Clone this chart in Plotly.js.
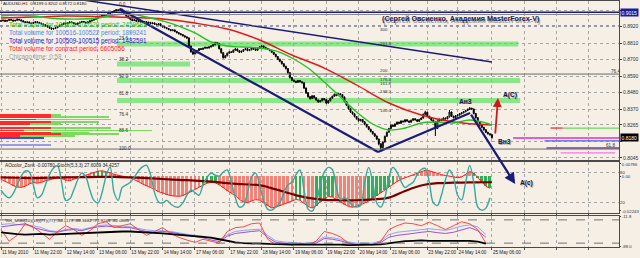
<!DOCTYPE html>
<html>
<head>
<meta charset="utf-8">
<script src="https://cdn.plot.ly/plotly-3.0.1.min.js"></script>
<style>
html,body{margin:0;padding:0;background:#f6efe6;overflow:hidden;}
#chart{width:640px;height:258px;}
</style>
</head>
<body>
<div id="chart"></div>
<script>
// ================= DATA =================
// prices stored as pips above 0.8000 (e.g. 958 -> 0.8958)
const symbolHeader = 'AUDUSD,H1  0.8199 0.8202 0.8172 0.8180';
const firstOpen = 955;
const closePips = [
958,962,955,960,966,963,957,961,968,964,
958,952,947,950,944,940,946,951,948,942,
937,931,925,918,910,903,907,912,920,928,
934,941,938,945,950,946,939,935,942,948,
953,949,944,950,957,962,968,975,981,988,
993,1000,996,1005,1012,1018,1024,1031,1027,1035,
1021,1004,990,978,969,960,964,955,958,951,
947,953,942,948,939,944,936,931,938,925,
918,912,906,900,893,897,887,879,872,866,
858,851,844,790,752,738,745,760,772,768,
775,781,777,784,790,798,812,806,772,745,
712,725,742,751,748,762,770,758,749,755,
766,772,760,765,778,770,762,775,784,790,
781,774,768,760,748,735,720,702,688,672,
655,640,612,580,562,555,548,560,552,545,
510,478,452,440,458,445,430,418,425,440,
432,410,425,442,455,468,460,472,466,450,
420,395,372,350,338,320,305,292,300,285,
268,252,235,220,205,190,170,138,112,150,
188,215,240,262,255,270,282,275,290,285,
298,290,282,295,305,298,288,300,310,335,
348,322,310,296,285,240,290,302,295,310,
305,318,350,322,312,325,330,338,345,352,
360,368,375,370,340,312,285,262,248,232,
215,205,199,180];
const highPips = [
963,966,965,964,970,971,966,965,973,971,
967,961,955,954,953,947,950,955,954,950,
945,940,934,928,921,913,911,916,924,932,
938,945,946,949,954,953,949,942,946,952,
957,956,952,954,961,966,972,979,985,992,
998,1004,1003,1009,1016,1022,1028,1036,1034,1043,
1038,1024,1007,993,982,972,968,967,962,961,
954,957,955,952,950,948,946,939,942,940,
928,921,915,909,903,901,900,890,882,875,
869,861,854,847,793,756,750,764,776,777,
779,785,784,788,794,802,818,815,809,775,
748,729,746,755,755,766,775,773,761,759,
770,776,775,769,782,781,773,779,788,795,
793,784,777,771,763,751,738,723,705,691,
675,658,643,615,584,566,558,564,563,555,
548,513,481,456,462,461,448,433,429,444,
443,435,429,446,459,473,471,476,475,469,
453,423,398,375,353,341,323,308,304,303,
288,271,255,238,223,208,193,173,141,154,
192,219,244,266,266,274,286,285,294,293,
302,301,293,299,309,308,301,304,314,340,
358,351,325,313,299,288,294,306,305,314,
313,322,363,353,325,329,334,342,349,356,
364,372,382,378,373,343,315,288,265,251,
235,218,208,202];
const lowPips = [
951,954,951,952,957,959,953,954,958,960,
954,948,943,944,940,935,937,943,944,938,
933,927,920,914,905,897,899,903,909,917,
924,930,934,935,941,942,935,930,932,939,
945,945,940,941,947,953,959,965,971,978,
984,989,991,993,1001,1008,1014,1020,1022,1024,
1016,998,985,973,964,955,956,951,951,947,
943,944,938,939,935,936,932,927,928,921,
914,908,902,895,888,889,882,874,867,861,
853,846,838,782,745,730,733,741,756,763,
764,771,772,773,780,786,794,801,767,739,
706,708,721,738,743,744,758,753,744,745,
751,762,755,756,761,765,757,758,771,780,
776,769,763,755,743,730,714,696,682,666,
649,633,605,573,555,549,542,544,547,539,
503,470,445,432,436,440,424,411,414,421,
427,404,406,421,438,451,455,456,461,445,
414,389,366,344,332,314,299,286,288,279,
262,246,229,214,199,184,163,128,83,105,
146,184,211,236,250,251,266,270,271,280,
281,285,277,278,291,293,283,284,296,306,
331,317,305,291,280,190,236,286,290,291,
300,301,314,317,307,308,321,326,334,341,
348,356,364,365,334,306,279,256,242,226,
209,199,192,172];

const maRedBars = [0,16,32,48,64,80,96,112,128,144,160,176,192,208,224,243];
const maRedPips = [977,983,990,987,980,970,943,903,830,730,643,530,410,330,283,263];
const maGreenBars = [0,8,16,24,32,40,48,56,64,72,80,88,96,104,112,120,128,136,144,152,160,168,176,184,192,200,208,216,224,232,240,243];
const maGreenPips = [990,997,990,977,970,970,977,997,1003,983,957,923,877,817,790,783,777,757,710,643,550,450,350,270,230,243,277,283,277,297,277,263];

// drawn trend lines (bar, price)
const longLineBars = [37.6, 243];
const longLinePrices = [0.9103, 0.8683];
const channelBars = [58.9, 186.6];
const channelPrices = [0.9037, 0.8083];
const riseBars = [186.6, 232.2];
const risePrices = [0.8083, 0.8343];
const navyArrowFrom = [232.2, 0.8343];
const navyArrowTo = [254.5, 0.7870];
const redArrowFrom = [244.6, 0.8197];
const redArrowTo = [246.0, 0.8443];

// horizontal zones and levels
const bandPrices = [0.8803, 0.8670, 0.8560, 0.8427];
const bandFromBar = [57.4, 57.4, 57.4, 57.4];
const bandToBar = [256, 93.6, 257, 257];
const fullLevelPrices = [0.9015, 0.9000, 0.8603, 0.8103];
const dottedLevelPrice = 0.8925;
const rightSegPrices = [0.8243, 0.8243, 0.8177, 0.8157, 0.8110, 0.8077];
const rightSegFrom = [278, 272, 253.5, 269, 270, 277];
const rightSegTo = [307, 278, 307, 307, 307, 304];

// left volume profile lines
const volPrices = [0.8330,0.8317,0.8300,0.8283,0.8270,0.8243,0.8227,0.8213,0.8203,0.8190];
const volGreenLen = [30,54,55,49,30,55,75,44,59,37];
const volRedLen = [25,25,18,25,15,25,12,25,30,10];
const volBluePrices = [0.8177];
const volBlueLen = [22];
const volLavPrices = [0.8130];
const volLavLen = [25];

// fibo labels
const fibLeftText = ['0.0','23.6','38.2','50.0','61.8','76.4','88.6','100.0'];
const fibLeftPrices = [0.9043,0.8817,0.8677,0.8563,0.8450,0.8310,0.8203,0.8083];
const fibRightText = ['300','261.8','200','176.4','161.8','138.2','100.0'];
const fibRightPrices = [0.8897,0.8810,0.8630,0.8570,0.8537,0.8490,0.8363];

// axis ticks
const xTickBars = [0,16,32,48,64,80,96,113,129,145,161,177,193,211,226,243,259,275,291];
const xTickLabels = ['11 May 2010','11 May 22:00','12 May 14:00','13 May 06:00','13 May 22:00','14 May 14:00','17 May 06:00','17 May 22:00','18 May 14:00','19 May 06:00','19 May 22:00','20 May 14:00','21 May 06:00','23 May 22:00','24 May 14:00','25 May 06:00','','',''];
const priceTicks = [0.8045,0.8155,0.8265,0.8370,0.8480,0.8590,0.8700,0.8810,0.8920,0.9030];
const priceTickLabels = ['0.8045','','0.8265','0.8370','0.8480','0.8590','0.8700','0.8810','0.8920',''];

// oscillator window (every 2nd bar)
const stochMain = [
45,35,30,38,55,72,82,80,55,30,
35,55,75,88,92,60,25,28,45,65,
78,70,45,25,20,40,72,90,40,25,
50,55,60,70,82,90,93,75,40,22,
20,25,18,13,12,20,35,45,40,35,
55,70,78,74,72,80,84,60,30,12,
15,40,70,78,55,25,8,6,12,20,
40,55,60,75,84,45,8,4,20,55,
80,89,85,50,26,30,25,15,12,15,
60,89,60,20,12,30,70,89,80,62,
50,55,60,75,85,87,60,20,15,35,
65,84,70,35,26,60,93,60,12,6,
10,30];
// AO values in units of 0.0001
const aoValues = [
-20,-30,-45,-60,-70,-72,-65,-50,-40,-45,
-40,-30,-22,-15,-10,-15,-25,-28,-20,-10,
0,8,15,25,32,35,30,22,12,5,
0,-5,-10,-20,-35,-50,-60,-70,-85,-100,
-110,-118,-125,-128,-130,-125,-115,-100,-85,-70,
-55,-45,-40,-42,-55,-75,-95,-110,-125,-150,
-165,-170,-160,-150,-155,-170,-190,-205,-200,-190,
-180,-170,-160,-150,-155,-175,-195,-205,-190,-165,
-145,-130,-135,-150,-170,-185,-195,-200,-195,-185,
-175,-160,-140,-125,-110,-90,-70,-50,-35,-20,
-10,0,10,20,30,38,35,25,15,10,
5,0,-5,-10,-5,10,30,20,-10,-40,
-65,-78];
const aoGreenRanges = [[46,52],[100,106],[146,148],[156,164],[182,194],[234,242]];
const aoSignalBars = maGreenBars;
const aoSignal = [-8,-10,-12,-10,-8,-6,-5,-5,-8,-12,-18,-24,-28,-35,-45,-52,-58,-85,-115,-140,-152,-155,-155,-150,-138,-95,-60,-45,-42,-40,-39,-39];
const aoHeader = 'AOcolor_Zonk -0.00780  Stoch(5,3,3) 27.6009 34.4257';

// %R window (every 4th bar)
const wprBlack = [
-52,-55,-57,-58,-57,-56,-58,-57,-56,-55,
-54,-53,-52,-52,-51,-50,-50,-51,-52,-53,
-55,-57,-59,-61,-62,-64,-66,-70,-74,-78,
-80,-81,-82,-82,-83,-83,-84,-84,-84,-83,
-83,-84,-84,-85,-85,-85,-84,-83,-80,-77,
-75,-74,-73,-74,-74,-75,-74,-75,-74,-76,
-81];
const wprRed = [
-45,-75,-60,-30,-38,-55,-70,-50,-35,-45,
-60,-48,-30,-25,-40,-35,-30,-45,-60,-50,
-40,-55,-65,-72,-78,-70,-75,-80,-50,-40,
-38,-30,-28,-70,-84,-82,-85,-80,-84,-75,
-50,-55,-64,-80,-84,-82,-85,-75,-45,-35,
-28,-30,-35,-26,-35,-45,-35,-25,-30,-45,
-80];
const wprPurple = [
-38,-35,-33,-30,-40,-45,-50,-52,-47,-45,
-48,-42,-38,-36,-38,-40,-40,-45,-50,-52,
-50,-52,-56,-60,-63,-66,-72,-76,-62,-55,
-52,-50,-48,-65,-78,-80,-82,-82,-83,-80,
-68,-70,-74,-80,-83,-82,-83,-78,-65,-60,
-58,-55,-52,-50,-53,-55,-52,-45,-40,-48,
-65];
const wprBlue = [
-32,-30,-32,-33,-35,-40,-48,-50,-45,-42,
-45,-40,-35,-33,-34,-36,-38,-42,-46,-48,
-48,-50,-54,-57,-60,-62,-68,-72,-58,-50,
-47,-45,-44,-60,-74,-77,-79,-80,-80,-77,
-64,-66,-70,-77,-80,-80,-80,-74,-58,-52,
-50,-48,-45,-43,-45,-47,-42,-36,-33,-38,
-58];
const wprHeader = '%R_Multi(20)(55)(77)(77) -54.1179 -68.3682 -72.9248 -82.0885';

// text block
const volumeTexts = [
  'Total volume for 100523-100529 period: 2459683',
  'Total volume for 100516-100522 period: 1899241',
  'Total volume for 100509-100515 period: 1482591',
  'Total volume for contract period: 6605056',
  'Chicago time: 0:58'];
const authorText = '(Сергей Овсиенко, Академия MasterForex-V)';

// ================= BUILD =================
const BG = '#f6efe6';
const NAVY = '#1b1b78';
const FONT = 'Liberation Sans, Arial, sans-serif';
const toP = v => 0.8 + v / 10000;
const bars = closePips.map((_, i) => i);
const opens = closePips.map((c, i) => i === 0 ? firstOpen : closePips[i - 1]);
const oscBars = stochMain.map((_, k) => 2 * k);
const wprBars = wprBlack.map((_, m) => 4 * m);

// pixel -> paper helpers (plot area 0..619 x 1..247)
const PW = 619, PT = 1, PB = 247;
const px = x => x / PW;
const py = y => (PB - y) / (PB - PT);

const traces = [];

// volume profile (horizontal bars)
traces.push({type:'bar', orientation:'h', y: volPrices, x: volGreenLen, base: -0.5, width: 0.0009,
  marker:{color:'rgba(110,215,80,0.9)'}, hoverinfo:'skip', xaxis:'x', yaxis:'y'});
traces.push({type:'bar', orientation:'h', y: volPrices, x: volRedLen, base: -0.5, width: 0.0009,
  marker:{color:'#ff2a2a'}, hoverinfo:'skip', xaxis:'x', yaxis:'y'});
traces.push({type:'bar', orientation:'h', y: volBluePrices, x: volBlueLen, base: -0.5, width: 0.0009,
  marker:{color:'#3a50e0'}, hoverinfo:'skip', xaxis:'x', yaxis:'y'});
traces.push({type:'bar', orientation:'h', y: volLavPrices, x: volLavLen, base: -0.5, width: 0.0009,
  marker:{color:'#9a9ae6'}, hoverinfo:'skip', xaxis:'x', yaxis:'y'});

// candles
traces.push({type:'candlestick', x: bars,
  open: opens.map(toP), high: highPips.map(toP), low: lowPips.map(toP), close: closePips.map(toP),
  increasing:{line:{color:'#000000', width:1}, fillcolor:'#ffffff'},
  decreasing:{line:{color:'#000000', width:1}, fillcolor:'#000000'},
  whiskerwidth:0, hoverinfo:'skip', xaxis:'x', yaxis:'y'});

// moving averages
traces.push({type:'scatter', mode:'lines', x: maRedBars, y: maRedPips.map(toP),
  line:{color:'#e01818', width:1.4, shape:'spline'}, hoverinfo:'skip', xaxis:'x', yaxis:'y'});
traces.push({type:'scatter', mode:'lines', x: maGreenBars, y: maGreenPips.map(toP),
  line:{color:'#22c322', width:1.4, shape:'spline'}, hoverinfo:'skip', xaxis:'x', yaxis:'y'});

// right side level segments
const segColors = ['#66dd55','#ee3333','#e060d8','#5060e0','#7a3aa0','#f07ae8'];
rightSegPrices.forEach((p, i) => {
  traces.push({type:'scatter', mode:'lines', x:[rightSegFrom[i], rightSegTo[i]], y:[p, p],
    line:{color: segColors[i], width: i === 2 ? 2 : 1.3}, hoverinfo:'skip', xaxis:'x', yaxis:'y'});
});

// trend lines
traces.push({type:'scatter', mode:'lines', x: longLineBars, y: longLinePrices,
  line:{color: NAVY, width:1.5}, hoverinfo:'skip', xaxis:'x', yaxis:'y'});
traces.push({type:'scatter', mode:'lines', x: channelBars, y: channelPrices,
  line:{color: NAVY, width:2.2}, hoverinfo:'skip', xaxis:'x', yaxis:'y'});
traces.push({type:'scatter', mode:'lines', x: riseBars, y: risePrices,
  line:{color: NAVY, width:2.2}, hoverinfo:'skip', xaxis:'x', yaxis:'y'});

// oscillator: AO histogram
const aoColors = oscBars.map(b => aoGreenRanges.some(r => b >= r[0] && b <= r[1]) ? 'rgba(40,170,80,0.95)' : 'rgba(242,112,100,0.85)');
traces.push({type:'bar', x: oscBars, y: aoValues.map(v => v / 10000), width: 1.4,
  marker:{color: aoColors}, hoverinfo:'skip', xaxis:'x', yaxis:'y2'});
traces.push({type:'scatter', mode:'lines', x: oscBars, y: aoValues.map(v => v / 10000),
  line:{color:'#ff1a1a', width:1}, hoverinfo:'skip', xaxis:'x', yaxis:'y2'});
traces.push({type:'scatter', mode:'lines', x: aoSignalBars, y: aoSignal.map(v => v / 10000),
  line:{color:'#7a0000', width:2.2, shape:'spline'}, hoverinfo:'skip', xaxis:'x', yaxis:'y2'});
traces.push({type:'scatter', mode:'lines', x: oscBars, y: stochMain,
  line:{color:'#35a99b', width:1.4, shape:'spline'}, hoverinfo:'skip', xaxis:'x', yaxis:'y4'});

// %R window
traces.push({type:'scatter', mode:'lines', x: wprBars, y: wprBlue, line:{color:'#7f9cff', width:0.9}, hoverinfo:'skip', xaxis:'x', yaxis:'y3'});
traces.push({type:'scatter', mode:'lines', x: wprBars, y: wprPurple, line:{color:'#9a3fc0', width:0.9}, hoverinfo:'skip', xaxis:'x', yaxis:'y3'});
traces.push({type:'scatter', mode:'lines', x: wprBars, y: wprRed, line:{color:'#ff3535', width:0.9}, hoverinfo:'skip', xaxis:'x', yaxis:'y3'});
traces.push({type:'scatter', mode:'lines', x: wprBars, y: wprBlack, line:{color:'#000000', width:1.8}, hoverinfo:'skip', xaxis:'x', yaxis:'y3'});

// shapes
const shapes = [];
bandPrices.forEach((p, i) => {
  shapes.push({type:'rect', xref:'x', yref:'y', x0: bandFromBar[i], x1: bandToBar[i],
    y0: p - 0.00165, y1: p + 0.00165, fillcolor:'rgba(120,228,120,0.85)', line:{width:0}, layer:'below'});
});
const fullColors = [NAVY, '#8a8a8a', '#6a6a6a', '#6a6a6a'];
fullLevelPrices.forEach((p, i) => {
  shapes.push({type:'line', xref:'paper', yref:'y', x0:0, x1:1, y0:p, y1:p,
    line:{color: fullColors[i], width: i === 0 ? 1.5 : 1}});
});
shapes.push({type:'line', xref:'paper', yref:'y', x0:0, x1:1, y0:dottedLevelPrice, y1:dottedLevelPrice,
  line:{color:'#7070d0', width:1, dash:'dot'}});
[-20, -80].forEach(v => shapes.push({type:'line', xref:'paper', yref:'y3', x0:0, x1:1, y0:v, y1:v,
  line:{color:'#707070', width:1, dash:'dash'}}));

// annotations
const ann = [];
const txt = (x, y, text, opts) => Object.assign({xref:'paper', yref:'paper', x: px(x), y: py(y), text: text,
  showarrow:false, xanchor:'left', yanchor:'middle', font:{family:FONT, size:5, color:'#202020'}}, opts || {});

ann.push(txt(1, 3, symbolHeader, {font:{family:FONT, size:4.3, color:'#101010'}}));
const volColors = ['#12c012', '#4f86e0', '#2222c8', '#ff1a1a', '#a0a0a0'];
const volY = [25, 33, 41, 49, 57];
volumeTexts.forEach((t, i) => ann.push(txt(7, volY[i], t, {font:{family:FONT, size:6.3, color: volColors[i]}})));

// author title with shadow
ann.push(txt(381, 20, authorText, {font:{family:FONT, size:7.2, color:'#9a9a9a', weight:'bold'}}));
ann.push(txt(380, 19, authorText, {font:{family:FONT, size:7.2, color:'#1c1c50', weight:'bold'}}));

// fibo labels
fibLeftText.forEach((t, i) => ann.push({xref:'x', yref:'y', x: 57.5, y: fibLeftPrices[i], text: t, showarrow:false,
  xanchor:'left', yanchor:'bottom', yshift:-1, font:{family:FONT, size:4.6, color:'#303030'}}));
fibRightText.forEach((t, i) => ann.push({xref:'x', yref:'y', x: 186.5, y: fibRightPrices[i], text: t, showarrow:false,
  xanchor:'left', yanchor:'middle', font:{family:FONT, size:4.4, color:'#303030'}}));
ann.push(txt(609, 72, '76.4', {font:{family:FONT, size:4.6, color:'#303030'}}));
ann.push(txt(604, 146, '61.8', {font:{family:FONT, size:4.6, color:'#303030'}}));

// wave labels with shadow
const waveLabels = [['Ан3', 457, 101], ['Вн3', 496, 141], ['A(C)', 501, 95], ['A(c)', 518, 183]];
waveLabels.forEach(w => {
  ann.push(txt(w[1] + 1, w[2] + 1, w[0], {font:{family:FONT, size:6.6, color:'#a8a8a8', weight:'bold'}}));
  ann.push(txt(w[1], w[2], w[0], {font:{family:FONT, size:6.6, color:'#15154a', weight:'bold'}}));
});

// arrows
ann.push({xref:'x', yref:'y', axref:'x', ayref:'y', x: navyArrowTo[0], y: navyArrowTo[1],
  ax: navyArrowFrom[0], ay: navyArrowFrom[1], text:'', showarrow:true, arrowhead:2, arrowsize:1,
  arrowwidth:2.2, arrowcolor: NAVY, standoff:0});
ann.push({xref:'x', yref:'y', axref:'x', ayref:'y', x: redArrowTo[0], y: redArrowTo[1],
  ax: redArrowFrom[0], ay: redArrowFrom[1], text:'', showarrow:true, arrowhead:2, arrowsize:1,
  arrowwidth:1.8, arrowcolor:'#d01818', standoff:0});

// sub-window headers
ann.push(txt(3, 166, aoHeader, {font:{family:FONT, size:4.7, color:'#202020'}}));
ann.push(txt(3, 220, wprHeader, {font:{family:FONT, size:4.4, color:'#202020'}}));

// highlighted price labels
ann.push({xref:'paper', yref:'y', x:1, y:0.9015, xanchor:'left', xshift:1, text:'0.9015', showarrow:false,
  bgcolor:'#1c1c9c', borderpad:0.5, font:{family:FONT, size:5, color:'#ffffff'}});
ann.push({xref:'paper', yref:'y', x:1, y:0.8180, xanchor:'left', xshift:1, text:'0.8180', showarrow:false,
  bgcolor:'#000000', borderpad:0.5, font:{family:FONT, size:5, color:'#ffffff'}});

const GRID = '#a6a6a6';
const LINE = '#4a4a4a';
const tickFont = {family:FONT, size:5, color:'#303030'};
const smallTickFont = {family:FONT, size:4.3, color:'#303030'};
const layout = {
  width:640, height:258,
  margin:{l:0, r:21, t:1, b:11, pad:0},
  paper_bgcolor: BG, plot_bgcolor: BG,
  showlegend:false, barmode:'overlay', bargap:0,
  font:{family:FONT, size:5, color:'#202020'},
  xaxis:{domain:[0,1], range:[-0.5, 305.9], anchor:'y3',
    tickmode:'array', tickvals: xTickBars, ticktext: xTickLabels, tickangle:0,
    ticklabelposition:'outside right', ticks:'outside', ticklen:2, tickcolor:LINE,
    tickfont:{family:FONT, size:4.6, color:'#202020'}, automargin:false,
    showgrid:true, gridcolor:GRID, griddash:'dot', gridwidth:1,
    showline:true, linecolor:LINE, linewidth:1, mirror:'all', zeroline:false,
    rangeslider:{visible:false}, fixedrange:true},
  yaxis:{domain:[0.35366, 1], range:[0.8030, 0.9090], side:'right',
    tickmode:'array', tickvals: priceTicks, ticktext: priceTickLabels, automargin:false,
    ticks:'outside', ticklen:2, tickcolor:LINE, tickfont: tickFont,
    showgrid:true, gridcolor:GRID, griddash:'dot', gridwidth:1,
    showline:true, linecolor:LINE, linewidth:1, mirror:true, zeroline:false, fixedrange:true},
  yaxis2:{domain:[0.13821, 0.34553], range:[-0.02372, 0.00915], side:'right', automargin:false,
    tickmode:'array', tickvals:[0.00786, 0, -0.02243], ticktext:['0.00786','0.00','-0.02243'],
    ticks:'outside', ticklen:1, tickcolor:LINE, tickfont: smallTickFont,
    showgrid:false, showline:true, linecolor:LINE, linewidth:1, mirror:true, zeroline:false, fixedrange:true},
  yaxis4:{overlaying:'y2', anchor:'x', range:[0.5, 99.5], side:'right', automargin:false,
    tickmode:'array', tickvals:[80, 20], ticktext:['80','20'], ticks:'', tickfont: smallTickFont,
    showgrid:true, gridcolor:GRID, griddash:'dot', gridwidth:1, showline:false, zeroline:false, fixedrange:true},
  yaxis3:{domain:[0, 0.12602], range:[-90, -10], side:'right', automargin:false,
    tickmode:'array', tickvals:[-11.8, -88.0], ticktext:['-11.8','-88.0'],
    ticks:'outside', ticklen:1, tickcolor:LINE, tickfont: smallTickFont,
    showgrid:false, showline:true, linecolor:LINE, linewidth:1, mirror:true, zeroline:false, fixedrange:true},
  shapes: shapes,
  annotations: ann
};

Plotly.newPlot('chart', traces, layout, {staticPlot:true, displayModeBar:false});
</script>
</body>
</html>
